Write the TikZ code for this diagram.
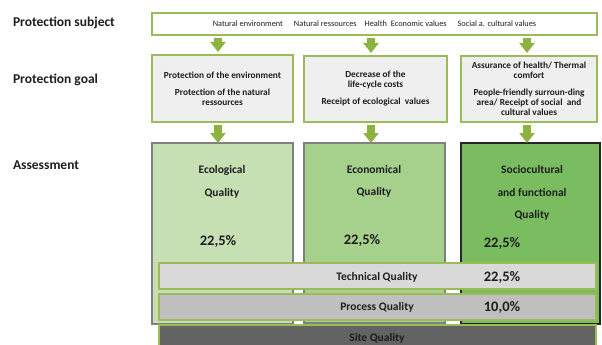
\documentclass[tikz,border=0pt]{standalone}
\usepackage{fontspec}
\setmainfont{Carlito}
\usetikzlibrary{arrows.meta}
\definecolor{bgreen}{HTML}{9BBB59}
\definecolor{agreen}{HTML}{8CB33F}
\definecolor{ecofill}{HTML}{C6E0B4}
\definecolor{econfill}{HTML}{A6D18C}
\definecolor{socfill}{HTML}{7ABD60}
\definecolor{goalfill}{HTML}{EFEFEF}
\definecolor{techfill}{HTML}{D9D9D9}
\definecolor{procfill}{HTML}{BFBFBF}
\definecolor{sitefill}{HTML}{636363}
\definecolor{txt}{HTML}{1E1E1E}
\definecolor{grayline}{HTML}{808080}
\definecolor{darkline}{HTML}{262626}
\begin{document}
\begin{tikzpicture}[x=1pt,y=-1pt,
  every node/.style={inner sep=0pt, outer sep=0pt, text=txt},
  lab/.style={anchor=west, font=\fontsize{13.5}{16}\selectfont\bfseries},
  gbox/.style={draw=bgreen, line width=1.5pt, fill=goalfill, align=center,
    font=\fontsize{9.3}{10}\selectfont\bfseries},
  abox/.style={draw=grayline, line width=1.2pt},
  bar/.style={draw=bgreen, line width=1.5pt, minimum width=437pt, minimum height=26pt},
  qtext/.style={font=\fontsize{11.5}{13}\selectfont\bfseries},
  pct/.style={font=\fontsize{14.5}{16}\selectfont\bfseries},
  blockarrow/.style={draw=agreen, line width=8pt, -{Triangle[width=15pt,length=10pt]}}
]
\useasboundingbox (0,0) rectangle (602,345);

% left labels
\node[lab] (ls) at (13,23) {Protection subject};
\node[lab] (lg) at (13,80) {Protection goal};
\node[lab] (la) at (13,165) {Assessment};

% top box
\node[draw=bgreen, line width=1.5pt, fill=white, minimum width=445pt, minimum height=22pt,
  font=\fontsize{8.3}{10}\selectfont] (top) at (374.5,24)
  {Natural environment\hspace{11pt}Natural ressources\hspace{8pt}Health\hspace{4pt}Economic values\hspace{11pt}Social a. cultural values};

% goal boxes
\node[gbox, minimum width=141pt, minimum height=67pt] (g1) at (222.5,88.5)
  {Protection of the environment\\[7pt]Protection of the natural\\ressources};
\node[gbox, minimum width=143pt, minimum height=66pt] (g2) at (375.5,89)
  {Decrease of the\\life-cycle costs\\[7pt]Receipt of ecological\ \ values};
\node[gbox, minimum width=136pt, minimum height=66pt] (g3) at (529,89)
  {Assurance of health/ Thermal\\comfort\\[7pt]People-friendly surroun-ding\\area/ Receipt of social\ \ and\\cultural values};

% assessment boxes
\node[abox, fill=ecofill, minimum width=141pt, minimum height=181pt] (a1) at (222.5,233.5) {};
\node[abox, fill=econfill, minimum width=141pt, minimum height=180pt] (a2) at (374.5,233) {};
\node[abox, draw=darkline, line width=1.4pt, fill=socfill, minimum width=139pt, minimum height=181pt] (a3) at (530.5,233.5) {};

\node[qtext] (e1) at (222,170) {Ecological};
\node[qtext] (e2) at (222,193) {Quality};
\node[pct] (e3) at (218,241) {22,5\%};
\node[qtext] (c1) at (374,170) {Economical};
\node[qtext] (c2) at (374,192) {Quality};
\node[pct] (c3) at (362,240) {22,5\%};
\node[qtext] (s1) at (532,170) {Sociocultural};
\node[qtext] (s2) at (532,192) {and functional};
\node[qtext] (s3) at (532,215) {Quality};
\node[pct] (s4) at (502,243) {22,5\%};

% bars
\node[bar, fill=techfill] (tech) at (377.5,276) {};
\node[bar, fill=procfill] (proc) at (377.5,307) {};
\node[bar, fill=sitefill, minimum height=25pt] (site) at (377.5,337.5) {};
\node[qtext] (t1) at (377,277) {Technical Quality};
\node[pct] (t2) at (502,277) {22,5\%};
\node[qtext] (p1) at (377,307) {Process Quality};
\node[pct] (p2) at (502,307) {10,0\%};
\node[qtext] (st) at (377,338) {Site Quality};

% arrows
\draw[blockarrow] ([xshift=-4.5pt,yshift=-3pt]top.south -| g1.north) -- ([xshift=-4.5pt,yshift=3pt]g1.north);
\draw[blockarrow] ([xshift=-4.5pt,yshift=-3pt]top.south -| g2.north) -- ([xshift=-4.5pt,yshift=3pt]g2.north);
\draw[blockarrow] ([xshift=-2pt,yshift=-3pt]top.south -| g3.north) -- ([xshift=-2pt,yshift=3pt]g3.north);
\draw[blockarrow] ([xshift=-4.5pt,yshift=-3pt]g1.south) -- ([xshift=-4.5pt]g1.south |- a1.north);
\draw[blockarrow] ([xshift=-4.5pt,yshift=-3pt]g2.south) -- ([xshift=-4.5pt]g2.south |- a2.north);
\draw[blockarrow] ([xshift=-2pt,yshift=-3pt]g3.south) -- ([xshift=-2pt]g3.south |- a3.north);
\end{tikzpicture}
\end{document}
